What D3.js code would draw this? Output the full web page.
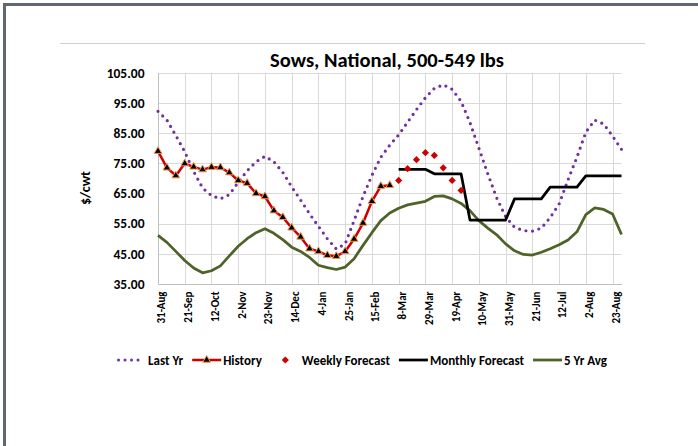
<!DOCTYPE html>
<html>
<head>
<meta charset="utf-8">
<script src="https://cdn.jsdelivr.net/npm/d3@7"></script>
<style>
  html, body { margin: 0; padding: 0; background: #ffffff; }
  svg { display: block; }
  text { font-family: Carlito, Lato, "Open Sans", sans-serif; font-weight: bold; fill: #000; }
</style>
</head>
<body>
<svg id="chart" width="698" height="446"></svg>
<script>
// Weekly sow prices ($/cwt), 500-549 lbs, national
const startWeek = "2020-08-31";
const weekCount = 53;
const tickLabels = ["31-Aug","21-Sep","12-Oct","2-Nov","23-Nov","14-Dec","4-Jan","25-Jan","15-Feb",
                    "8-Mar","29-Mar","19-Apr","10-May","31-May","21-Jun","12-Jul","2-Aug","23-Aug"];
const yTicks = [35, 45, 55, 65, 75, 85, 95, 105];

const lastYr = [92.2, 89.3, 84.2, 78.8, 72.3, 66.8, 64.3, 63.2, 64.6, 68.7, 72.5, 75.5, 77.3, 75.5,
                72.0, 67.2, 62.8, 58.3, 54.1, 50.0, 46.6, 48.3, 56.0, 64.0, 71.0, 77.0, 81.0, 84.4,
                88.6, 92.8, 96.7, 99.8, 101.0, 99.5, 95.5, 88.5, 80.0, 71.5, 63.5, 57.3, 53.8, 52.7,
                52.5, 53.5, 57.0, 61.5, 69.5, 77.0, 85.3, 89.3, 88.0, 84.0, 79.6];
const history = [79.0, 73.5, 70.9, 74.9, 73.8, 72.9, 73.7, 73.6, 71.9, 69.3, 68.4, 65.0, 64.0,
                 59.3, 57.1, 53.6, 50.6, 46.7, 45.8, 44.5, 44.2, 45.8, 49.9, 55.2, 62.4, 67.4, 67.7];
const weeklyForecastStart = 27;
const weeklyForecast = [69.3, 73.2, 76.2, 78.5, 77.6, 73.5, 69.3, 66.0];
const monthlyForecastStart = 27;
const monthlyForecast = [73.0, 73.0, 73.0, 73.0, 71.5, 71.5, 71.5, 71.5,
                         56.2, 56.2, 56.2, 56.2, 56.2, 63.2, 63.2, 63.2, 63.2,
                         67.1, 67.1, 67.1, 67.1, 70.8, 70.8, 70.8, 70.8, 70.8];
const fiveYrAvg = [51.1, 48.8, 45.8, 42.8, 40.3, 38.7, 39.4, 41.0, 44.3, 47.5, 50.0, 52.0, 53.3, 51.8,
                   49.7, 47.2, 45.8, 43.8, 41.2, 40.4, 39.8, 40.6, 43.4, 47.8, 52.0, 56.0, 58.5, 60.1,
                   61.2, 61.8, 62.4, 64.0, 64.2, 63.2, 61.7, 59.3, 56.0, 53.5, 51.3, 48.3, 46.0, 44.8,
                   44.6, 45.5, 46.7, 48.0, 49.6, 52.3, 58.0, 60.2, 59.7, 58.2, 51.4];

// Weekly category labels such as "31-Aug"
const fmt = d3.utcFormat("%-d-%b");
const t0 = new Date(startWeek + "T00:00:00Z");
const weeks = d3.range(weekCount).map(i => fmt(d3.utcDay.offset(t0, 7 * i)));

const svg = d3.select("#chart");

// Page frame
svg.append("rect").attr("x", 3).attr("y", 3).attr("width", 695).attr("height", 3).attr("fill", "#5d6872");
svg.append("rect").attr("x", 3).attr("y", 3).attr("width", 3).attr("height", 443).attr("fill", "#5d6872");
svg.append("line").attr("x1", 60).attr("x2", 645).attr("y1", 43.5).attr("y2", 43.5)
   .attr("stroke", "#cfcfcf").attr("stroke-width", 1);

const plot = { left: 158, right: 621.5, top: 72.7, bottom: 284 };

const x = d3.scalePoint().domain(weeks).range([plot.left, plot.right]);
const y = d3.scaleLinear().domain([35, 105]).range([plot.bottom, plot.top]);

// Gridlines
const grid = svg.append("g");
grid.selectAll("line.h").data(yTicks).join("line")
  .attr("x1", plot.left).attr("x2", plot.right)
  .attr("y1", d => Math.round(y(d)) + 0.5).attr("y2", d => Math.round(y(d)) + 0.5)
  .attr("stroke", "#d9d9d9").attr("stroke-width", 1);
const tickWeeks = weeks.filter(w => tickLabels.includes(w));
grid.selectAll("line.v").data(tickWeeks).join("line")
  .attr("x1", d => Math.round(x(d)) + 0.5).attr("x2", d => Math.round(x(d)) + 0.5)
  .attr("y1", plot.top).attr("y2", plot.bottom)
  .attr("stroke", "#d9d9d9").attr("stroke-width", 1);

// Axes
const yAxis = svg.append("g").attr("transform", `translate(${plot.left},0)`)
  .call(d3.axisLeft(y).tickValues(yTicks).tickFormat(d3.format(".2f")).tickSize(0).tickPadding(13.5));
yAxis.select(".domain").attr("stroke", "#bfbfbf");
yAxis.selectAll("text").style("font-size", "13.5px");

const xAxis = svg.append("g").attr("transform", `translate(0,${plot.bottom})`)
  .call(d3.axisBottom(x).tickValues(tickWeeks).tickSize(0));
xAxis.select(".domain").attr("stroke", "#bfbfbf");
xAxis.selectAll("text")
  .style("font-size", "11px")
  .attr("text-anchor", "end")
  .attr("transform", "rotate(-90)")
  .attr("x", -7.5).attr("y", 3).attr("dy", "0.35em");

// Title and axis title
svg.append("text").attr("x", 387).attr("y", 67).attr("text-anchor", "middle")
  .style("font-size", "20.5px").text("Sows, National, 500-549 lbs");
svg.append("text").attr("transform", "translate(90,188) rotate(-90)").attr("text-anchor", "middle")
  .style("font-size", "14px").text("$/cwt");

// Series
const line = d3.line().x(d => x(d.w)).y(d => y(d.v));
const pts = (arr, start) => arr.map((v, i) => ({ w: weeks[start + i], v }));

const fiveYrPts = pts(fiveYrAvg, 0);
const lastYrPts = pts(lastYr, 0);
const historyPts = pts(history, 0);
const weeklyPts = pts(weeklyForecast, weeklyForecastStart);
const monthlyPts = pts(monthlyForecast, monthlyForecastStart);

svg.append("path").datum(fiveYrPts).attr("d", line)
  .attr("fill", "none").attr("stroke", "#4f6228").attr("stroke-width", 2.75).attr("stroke-linejoin", "round");
svg.append("path").datum(lastYrPts).attr("d", line)
  .attr("fill", "none").attr("stroke", "#7030a0").attr("stroke-width", 3.2)
  .attr("stroke-linecap", "round").attr("stroke-dasharray", "0 6.6");
svg.append("path").datum(monthlyPts).attr("d", line)
  .attr("fill", "none").attr("stroke", "#000").attr("stroke-width", 2.75).attr("stroke-linejoin", "round");
svg.append("path").datum(historyPts).attr("d", line)
  .attr("fill", "none").attr("stroke", "#cc0000").attr("stroke-width", 2.5).attr("stroke-linejoin", "round");

const tri = d3.symbol().type(d3.symbolTriangle).size(26);
svg.append("g").selectAll("path").data(historyPts).join("path")
  .attr("d", tri).attr("transform", d => `translate(${x(d.w)},${y(d.v)})`)
  .attr("fill", "#000").attr("stroke", "#f79646").attr("stroke-width", 1);

// Diamond markers: squares turned 45 degrees
const dia = d3.symbol().type(d3.symbolSquare).size(26);
svg.append("g").selectAll("path").data(weeklyPts).join("path")
  .attr("d", dia).attr("transform", d => `translate(${x(d.w)},${y(d.v)}) rotate(45)`)
  .attr("fill", "#cc0000");

// Legend
const legendItems = [
  { name: "Last Yr", kind: "dots" },
  { name: "History", kind: "lineMarker" },
  { name: "Weekly Forecast", kind: "marker" },
  { name: "Monthly Forecast", kind: "line", color: "#000" },
  { name: "5 Yr Avg", kind: "line", color: "#4f6228" }
];
const legend = svg.append("g");
const legendY = 360;
const symW = 29, textGap = 2, itemGap = 9;
let cx = 0;
legendItems.forEach(item => {
  const g = legend.append("g").attr("transform", `translate(${cx},${legendY})`);
  if (item.kind === "dots") {
    g.append("line").attr("x1", 1.5).attr("x2", symW - 1.5).attr("y1", 0).attr("y2", 0)
      .attr("stroke", "#7030a0").attr("stroke-width", 3).attr("stroke-linecap", "round")
      .attr("stroke-dasharray", "0 6.5");
  } else if (item.kind === "lineMarker") {
    g.append("line").attr("x1", 0).attr("x2", symW).attr("y1", 0).attr("y2", 0)
      .attr("stroke", "#cc0000").attr("stroke-width", 2.5);
    g.append("path").attr("d", tri).attr("transform", `translate(${symW / 2},0)`)
      .attr("fill", "#000").attr("stroke", "#f79646").attr("stroke-width", 1);
  } else if (item.kind === "marker") {
    g.append("path").attr("d", dia).attr("transform", `translate(${symW / 2},0) rotate(45)`).attr("fill", "#cc0000");
  } else {
    g.append("line").attr("x1", 0).attr("x2", symW).attr("y1", 0).attr("y2", 0)
      .attr("stroke", item.color).attr("stroke-width", 2.75);
  }
  const t = g.append("text").attr("x", symW + textGap).attr("y", 0).attr("dy", "0.35em")
    .style("font-size", "13px").text(item.name);
  cx += symW + textGap + t.node().getComputedTextLength() + itemGap;
});
const legendWidth = cx - itemGap;
legend.attr("transform", `translate(${362 - legendWidth / 2},0)`);
</script>
</body>
</html>
